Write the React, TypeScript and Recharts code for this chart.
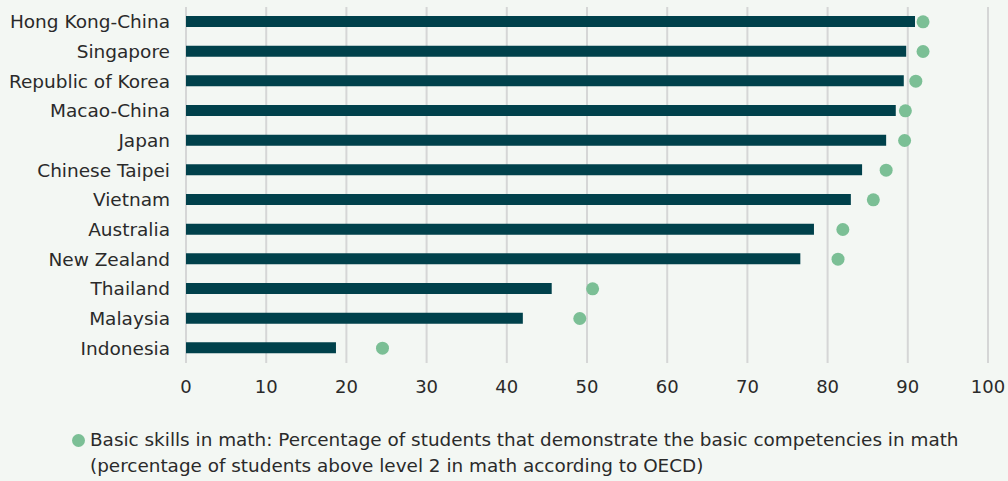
import { ComposedChart, Bar, Scatter, XAxis, YAxis, CartesianGrid, Legend } from "recharts";

const countries = [
  "Hong Kong-China",
  "Singapore",
  "Republic of Korea",
  "Macao-China",
  "Japan",
  "Chinese Taipei",
  "Vietnam",
  "Australia",
  "New Zealand",
  "Thailand",
  "Malaysia",
  "Indonesia",
];
const barValues = [90.9, 89.8, 89.5, 88.5, 87.3, 84.3, 82.9, 78.3, 76.6, 45.6, 42.0, 18.7];
const mathValues = [91.9, 91.9, 91.0, 89.7, 89.6, 87.3, 85.7, 81.9, 81.3, 50.7, 49.1, 24.5];
const xTicks = [0, 10, 20, 30, 40, 50, 60, 70, 80, 90, 100];

const legendLines = [
  "Basic skills in math: Percentage of students that demonstrate the basic competencies in math",
  "(percentage of students above level 2 in math according to OECD)",
];

const data = countries.map((name, i) => ({ name, bar: barValues[i], math: mathValues[i] }));

const FONT = "'DejaVu Sans', sans-serif";
const DOT = "#7bbf95";
const BAR = "#00414b";
const TEXT = "#2a2a2a";

function LegendBox() {
  return (
    <div style={{ display: "flex", alignItems: "flex-start", marginLeft: 72, fontFamily: FONT, fontSize: 18.4, color: TEXT, lineHeight: "26px" }}>
      <span style={{ width: 13, height: 13, borderRadius: "50%", background: DOT, marginTop: 7, marginRight: 5, flex: "none" }} />
      <div style={{ textAlign: "left", whiteSpace: "nowrap" }}>
        {legendLines.map((l) => (
          <div key={l}>{l}</div>
        ))}
      </div>
    </div>
  );
}

export default function App() {
  return (
    <div style={{ position: "absolute", left: 0, top: 0, width: 1008, height: 481, background: "#f3f7f3" }}>
      <ComposedChart
        layout="vertical"
        width={1008}
        height={481}
        data={data}
        margin={{ top: 7, right: 20, bottom: 0, left: 0 }}
      >
        <CartesianGrid horizontal={false} stroke="#d5d6d6" strokeWidth={2} />
        <XAxis
          type="number"
          domain={[0, 100]}
          ticks={xTicks}
          axisLine={false}
          tickLine={false}
          tickSize={0}
          tickMargin={17}
          height={64}
          tick={{ fontFamily: FONT, fontSize: 18, fill: TEXT }}
        />
        <YAxis
          type="category"
          dataKey="name"
          width={186}
          axisLine={false}
          tickLine={false}
          tickSize={0}
          tickMargin={16}
          interval={0}
          tick={{ fontFamily: FONT, fontSize: 18.5, fill: TEXT }}
        />
        <Bar dataKey="bar" fill={BAR} barSize={11} isAnimationActive={false} legendType="none" />
        <Scatter
          dataKey="math"
          fill={DOT}
          isAnimationActive={false}
          shape={(p: any) => <circle cx={p.cx} cy={p.cy} r={6.5} fill={DOT} />}
        />
        <Legend verticalAlign="bottom" height={54} content={() => <LegendBox />} />
      </ComposedChart>
    </div>
  );
}
